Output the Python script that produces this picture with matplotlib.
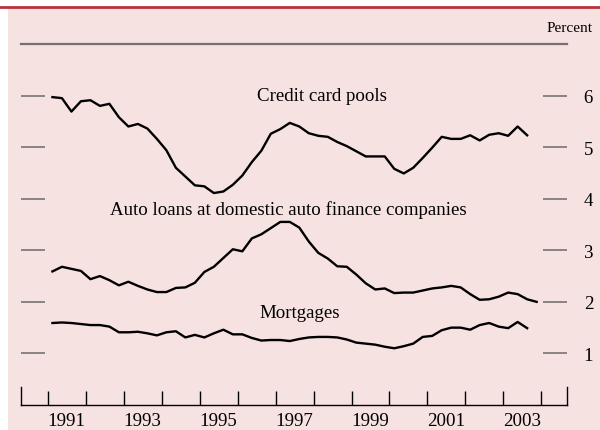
import matplotlib
matplotlib.use("Agg")
import matplotlib.pyplot as plt
from matplotlib.patches import Rectangle
from matplotlib.lines import Line2D
import numpy as np

# quarterly values, 1991Q1 onward
credit_card = [5.97, 5.95, 5.69, 5.89, 5.91, 5.80, 5.84, 5.58, 5.40, 5.45,
               5.36, 5.16, 4.94, 4.60, 4.43, 4.26, 4.24, 4.11, 4.14, 4.27,
               4.45, 4.71, 4.93, 5.26, 5.35, 5.47, 5.40, 5.27, 5.22, 5.20,
               5.10, 5.02, 4.92, 4.82, 4.82, 4.82, 4.58, 4.49, 4.60, 4.79,
               4.99, 5.20, 5.16, 5.16, 5.23, 5.13, 5.24, 5.27, 5.22, 5.40,
               5.23]
auto_loans = [2.59, 2.68, 2.64, 2.60, 2.44, 2.50, 2.42, 2.32, 2.39, 2.31,
              2.24, 2.19, 2.19, 2.27, 2.28, 2.37, 2.58, 2.68, 2.85, 3.02,
              2.98, 3.23, 3.31, 3.43, 3.55, 3.55, 3.44, 3.17, 2.95, 2.84,
              2.69, 2.68, 2.53, 2.36, 2.24, 2.26, 2.17, 2.18, 2.18, 2.22,
              2.26, 2.28, 2.31, 2.28, 2.15, 2.04, 2.05, 2.10, 2.18, 2.15,
              2.05, 2.00]
mortgages = [1.59, 1.60, 1.59, 1.57, 1.55, 1.55, 1.52, 1.41, 1.41, 1.42,
             1.39, 1.35, 1.41, 1.43, 1.31, 1.36, 1.31, 1.39, 1.46, 1.37,
             1.37, 1.30, 1.25, 1.26, 1.26, 1.24, 1.28, 1.31, 1.32, 1.32,
             1.31, 1.27, 1.21, 1.19, 1.17, 1.13, 1.10, 1.14, 1.19, 1.32,
             1.34, 1.45, 1.50, 1.50, 1.46, 1.55, 1.59, 1.52, 1.49, 1.61,
             1.49]
year_labels = ["1991", "1993", "1995", "1997", "1999", "2001", "2003"]
pct_ticks = [1, 2, 3, 4, 5, 6]

def qtimes(n):
    return 1991.125 + 0.25 * np.arange(n)

plt.rcParams['font.family'] = ['Liberation Serif', 'DejaVu Serif']
fs = 13.6

fig = plt.figure(figsize=(6, 4.31), dpi=100)
fig.patch.set_facecolor("white")
fig.patches.append(Rectangle((8 / 600, 0), 1, (431 - 9) / 431, transform=fig.transFigure,
                             facecolor="#f6e2e1", edgecolor="none", zorder=-10))
fig.lines.append(Line2D([0, 1], [(431 - 8) / 431] * 2, transform=fig.transFigure,
                        color="#b8323f", linewidth=2.0, zorder=-5))

ax = fig.add_axes([21 / 600, 25 / 431, 546 / 600, 361 / 431])
ax.set_facecolor("none")

ax.plot(qtimes(len(credit_card)), credit_card, color="black", lw=1.7)
ax.plot(qtimes(len(auto_loans)), auto_loans, color="black", lw=1.7)
ax.plot(qtimes(len(mortgages)), mortgages, color="black", lw=1.7)

ax.text(1998.22, 6.0, "Credit card pools", ha="center", va="center", fontsize=fs)
ax.text(1997.33, 3.79, "Auto loans at domestic auto finance companies", ha="center", va="center", fontsize=fs)
ax.text(1997.64, 1.8, "Mortgages", ha="center", va="center", fontsize=fs)

ax.set_xlim(1990.297, 2004.674)
ax.set_ylim(0, 7)

ax.axhline(7, color="#787070", lw=1.6, clip_on=False)
ax.spines["top"].set_visible(False)
for s in ["left", "right"]:
    ax.spines[s].set_bounds(0, 0.35)
    ax.spines[s].set_linewidth(1.0)
ax.spines["bottom"].set_linewidth(1.0)

ax.set_xticks(np.arange(1991, 2005))
ax.set_xticklabels([])
ax.set_xticks([int(y) + 0.5 for y in year_labels], minor=True)
ax.set_xticklabels(year_labels, minor=True)
ax.tick_params(axis="x", which="major", direction="in", length=10, width=1.0)
ax.tick_params(axis="x", which="minor", length=0, pad=5, labelsize=fs)

ax.set_yticks(pct_ticks)
ax.set_yticklabels([str(v) for v in pct_ticks])
ax.tick_params(axis="y", direction="in", length=17.5, width=1.1, color="#6e6868",
               left=True, right=True, labelleft=False, labelright=True,
               pad=12, labelsize=fs)

fig.text(593 / 600, (431 - 28) / 431, "Percent", ha="right", va="center", fontsize=11)

fig.savefig("out.png", dpi=100)
